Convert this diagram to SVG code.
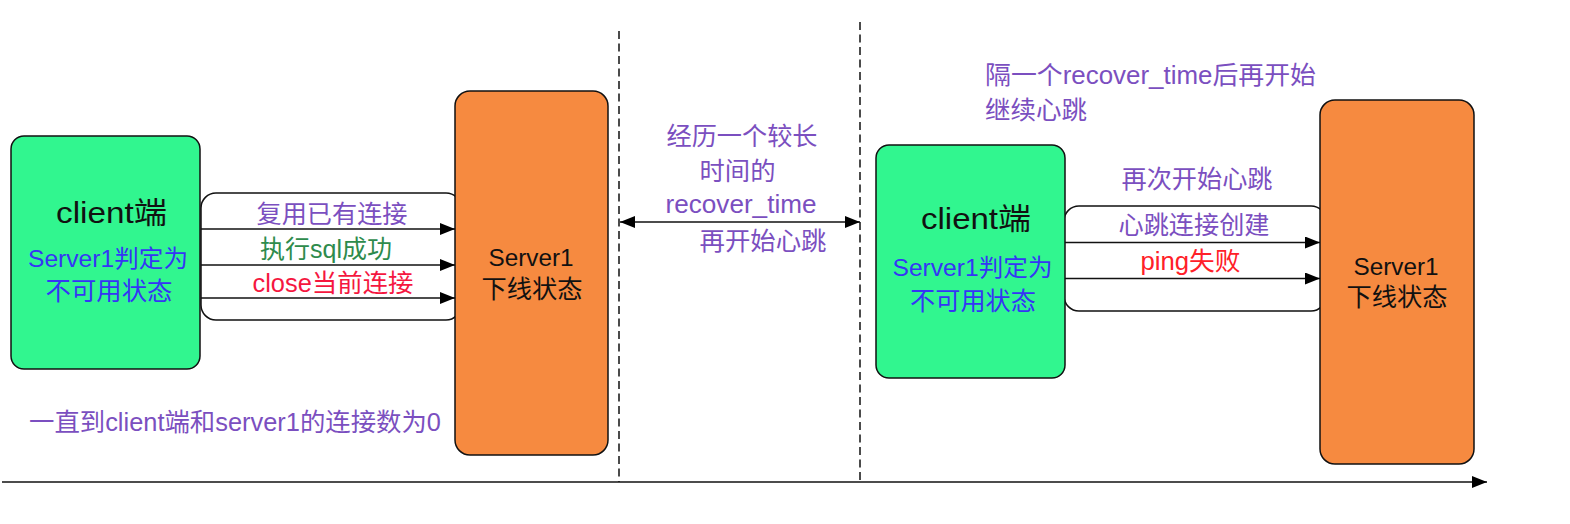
<svg xmlns="http://www.w3.org/2000/svg" width="1570" height="524" viewBox="0 0 1570 524">
<defs>
<marker id="ah" markerUnits="userSpaceOnUse" markerWidth="16" markerHeight="12" refX="15" refY="6" orient="auto-start-reverse">
<path d="M0,0 L15,6 L0,12 Z" fill="#000"/>
</marker>
<style>
text{font-family:"Liberation Sans","Noto Sans CJK SC",sans-serif;}
.client{fill:#31f68f;stroke:#111;stroke-width:1.5;}
.server{fill:#f68a40;stroke:#111;stroke-width:1.5;}
.conn{fill:#fff;stroke:#111;stroke-width:1.5;}
.arr{stroke:#111;stroke-width:1.5;fill:none;}
.dash{stroke:#111;stroke-width:1.5;stroke-dasharray:8 4.5;fill:none;}
.purple{fill:#7b4fc0;}
.blue{fill:#3535f5;}
.dark{fill:#111;}
</style>
</defs>
<rect width="1570" height="524" fill="#fff"/>
<g id="dividers">
<line class="dash" x1="619" y1="31" x2="619" y2="482"/>
<line class="dash" x1="860" y1="22" x2="860" y2="482"/>
</g>
<g id="conn-group-1">
<rect class="conn" x="201" y="193" width="260" height="127" rx="15"/>
</g>
<g id="conn-group-2">
<rect class="conn" x="1064" y="206" width="262" height="105" rx="15"/>
</g>
<g id="client1">
<rect class="client" x="11" y="136" width="189" height="233" rx="13"/>
<text class="dark" x="111.5" y="223" font-size="30" text-anchor="middle" textLength="111" lengthAdjust="spacingAndGlyphs">client端</text>
<text class="blue" x="108" y="267" font-size="24" text-anchor="middle" textLength="160" lengthAdjust="spacingAndGlyphs">Server1判定为</text>
<text class="blue" x="109" y="300" font-size="25" text-anchor="middle" textLength="127" lengthAdjust="spacingAndGlyphs">不可用状态</text>
</g>
<g id="server1a">
<rect class="server" x="455" y="91" width="153" height="364" rx="15"/>
<text class="dark" x="531" y="266" font-size="24" text-anchor="middle" textLength="85" lengthAdjust="spacingAndGlyphs">Server1</text>
<text class="dark" x="532" y="298" font-size="25" text-anchor="middle" textLength="101" lengthAdjust="spacingAndGlyphs">下线状态</text>
</g>
<g id="client2">
<rect class="client" x="876" y="145" width="189" height="233" rx="13"/>
<text class="dark" x="976" y="229" font-size="30" text-anchor="middle" textLength="110" lengthAdjust="spacingAndGlyphs">client端</text>
<text class="blue" x="972.5" y="275.5" font-size="24" text-anchor="middle" textLength="160" lengthAdjust="spacingAndGlyphs">Server1判定为</text>
<text class="blue" x="973" y="309.5" font-size="25" text-anchor="middle" textLength="126" lengthAdjust="spacingAndGlyphs">不可用状态</text>
</g>
<g id="server1b">
<rect class="server" x="1320" y="100" width="154" height="364" rx="15"/>
<text class="dark" x="1396" y="275" font-size="24" text-anchor="middle" textLength="85" lengthAdjust="spacingAndGlyphs">Server1</text>
<text class="dark" x="1397" y="306" font-size="25" text-anchor="middle" textLength="101" lengthAdjust="spacingAndGlyphs">下线状态</text>
</g>
<g id="connectors">
<line class="arr" x1="201" y1="229" x2="455" y2="229" marker-end="url(#ah)"/>
<line class="arr" x1="201" y1="265" x2="455" y2="265" marker-end="url(#ah)"/>
<line class="arr" x1="201" y1="298" x2="455" y2="298" marker-end="url(#ah)"/>
<line class="arr" x1="1065" y1="242.5" x2="1320" y2="242.5" marker-end="url(#ah)"/>
<line class="arr" x1="1065" y1="278.5" x2="1320" y2="278.5" marker-end="url(#ah)"/>
<line class="arr" x1="620" y1="222" x2="860" y2="222" marker-start="url(#ah)" marker-end="url(#ah)"/>
<line class="arr" x1="2" y1="482" x2="1487" y2="482" marker-end="url(#ah)"/>
</g>
<g id="labels">
<text class="purple" x="332" y="223" font-size="25" text-anchor="middle" textLength="151" lengthAdjust="spacingAndGlyphs">复用已有连接</text>
<text fill="#2e8b4c" x="326" y="258" font-size="25" text-anchor="middle" textLength="132" lengthAdjust="spacingAndGlyphs">执行sql成功</text>
<text fill="#f5173f" x="333" y="292" font-size="25" text-anchor="middle" textLength="161" lengthAdjust="spacingAndGlyphs">close当前连接</text>
<text class="purple" x="29" y="431" font-size="25" textLength="412" lengthAdjust="spacingAndGlyphs">一直到client端和server1的连接数为0</text>
<text class="purple" x="742" y="145" font-size="25" text-anchor="middle" textLength="151" lengthAdjust="spacingAndGlyphs">经历一个较长</text>
<text class="purple" x="737.5" y="180" font-size="25" text-anchor="middle" textLength="76" lengthAdjust="spacingAndGlyphs">时间的</text>
<text class="purple" x="741" y="213" font-size="25" text-anchor="middle" textLength="151" lengthAdjust="spacingAndGlyphs">recover_time</text>
<text class="purple" x="763" y="250" font-size="25" text-anchor="middle" textLength="127" lengthAdjust="spacingAndGlyphs">再开始心跳</text>
<text class="purple" x="985" y="84" font-size="25" textLength="331" lengthAdjust="spacingAndGlyphs">隔一个recover_time后再开始</text>
<text class="purple" x="985" y="119" font-size="25" textLength="102" lengthAdjust="spacingAndGlyphs">继续心跳</text>
<text class="purple" x="1197" y="188" font-size="25" text-anchor="middle" textLength="151" lengthAdjust="spacingAndGlyphs">再次开始心跳</text>
<text class="purple" x="1194" y="234" font-size="25" text-anchor="middle" textLength="151" lengthAdjust="spacingAndGlyphs">心跳连接创建</text>
<text fill="#ff2028" x="1190.5" y="270" font-size="25" text-anchor="middle" textLength="100" lengthAdjust="spacingAndGlyphs">ping失败</text>
</g>
</svg>
